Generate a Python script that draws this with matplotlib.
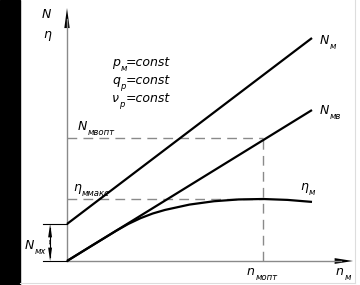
import matplotlib
matplotlib.use("Agg")
import matplotlib.pyplot as plt
import numpy as np

# ---- data (normalised units) ----
n_vals = [0.0, 1.0]                      # motor speed, n_м
N_m = [0.166, 1.0]                       # N_м  (input power)
N_mv = [0.0, 0.677]                      # N_мв (useful power)
n_eta = [0.0, 0.1, 0.2, 0.25, 0.3, 0.35, 0.4, 0.5, 0.6, 0.7, 0.8, 0.9, 1.0]
eta = [0.0, 0.068, 0.135, 0.166, 0.192, 0.213, 0.229, 0.253, 0.268, 0.276, 0.278, 0.274, 0.265]
N_mx = 0.166                             # no-load power
n_opt = 0.8
N_mv_opt = 0.552
eta_max = 0.278

FAM = ['Liberation Sans Narrow', 'DejaVu Sans']

fig = plt.figure(figsize=(3.6, 2.85), dpi=100)
ax = fig.add_axes([0, 0, 1, 1])
ax.set_xlim(-67 / 245, (360 - 67) / 245)
ax.set_ylim(-(285 - 261) / 223, 261 / 223)
ax.axis('off')

# black strip on the left
ax.axvspan(-67 / 245, (20 - 67) / 245, color='black', zorder=0)
# faint frame lines at right and bottom
ax.plot([(355 - 67) / 245] * 2, [-(283 - 261) / 223, 261 / 223], color='#dddddd', lw=0.8)
ax.plot([(20 - 67) / 245, (355 - 67) / 245], [-(283 - 261) / 223] * 2, color='#dddddd', lw=0.8)

gray = '#8a8a8a'
# axes
ytop = (261 - 8) / 223
xend = (353 - 67) / 245
ax.plot([0, 0], [0, ytop - 0.05], color=gray, lw=1.0)
ax.plot([0, xend - 0.05], [0, 0], color=gray, lw=1.0)
ax.fill([-0.011, 0.011, 0], [ytop - 0.09, ytop - 0.09, ytop], color='black', lw=0)
ax.fill([xend - 0.075, xend - 0.075, xend], [-0.013, 0.013, 0], color='black', lw=0)

# dashed guides
dash = dict(color=gray, lw=1.0, linestyle=(0, (7, 4.5)))
ax.plot([0, n_opt], [N_mv_opt, N_mv_opt], **dash)
ax.plot([0, n_opt], [eta_max, eta_max], **dash)
ax.plot([n_opt, n_opt], [0, N_mv_opt], **dash)

# curves
ax.plot(n_vals, N_m, color='black', lw=1.6, solid_capstyle='butt')
ax.plot(n_vals, N_mv, color='black', lw=1.6, solid_capstyle='butt')
ax.plot(n_eta, eta, color='black', lw=1.6, solid_capstyle='butt', solid_joinstyle='round')

# N_мх bracket
bx = -0.069
ax.plot([-0.098, 0], [N_mx, N_mx], color='black', lw=0.8)
ax.plot([-0.098, 0], [0, 0], color='black', lw=0.8)
ax.plot([bx, bx], [0.02, N_mx - 0.02], color='black', lw=0.8)
ax.fill([bx - 0.008, bx + 0.008, bx], [N_mx - 0.06, N_mx - 0.06, N_mx], color='black', lw=0)
ax.fill([bx - 0.008, bx + 0.008, bx], [0.06, 0.06, 0], color='black', lw=0)
ax.fill([bx - 0.004, bx + 0.004, bx], [0.075, 0.075, 0.09], color='black', lw=0)
ax.fill([bx - 0.004, bx + 0.004, bx], [0.093, 0.093, 0.078], color='black', lw=0)


def label(x, y, main, sub=None, size=11):
    t = ax.text(x, y, main, ha='left', va='baseline', fontsize=size * 0.75,
                style='italic', family=FAM)
    if sub:
        ax.annotate(sub, xy=(1, 0), xycoords=t, xytext=(0.3, -1.5),
                    textcoords='offset points', ha='left', va='baseline',
                    fontsize=size * 0.75 * 0.68, style='italic', family=FAM)
    return t


def px(xp, yp):
    return (xp - 67) / 245, (261 - yp) / 223


label(*px(42, 18), 'N', size=12)
label(*px(43, 38), 'η', size=12)
label(*px(112, 66), 'p', 'м', size=12)
label(*px(112, 84), 'q', 'р', size=12)
label(*px(112, 102), 'ν', 'р', size=12)
ax.text(*px(126, 66), '=const', ha='left', va='baseline', fontsize=9, style='italic', family=FAM)
ax.text(*px(126, 84), '=const', ha='left', va='baseline', fontsize=9, style='italic', family=FAM)
ax.text(*px(126, 102), '=const', ha='left', va='baseline', fontsize=9, style='italic', family=FAM)
label(*px(78, 130), 'N', 'мвопт', size=12)
label(*px(73, 191), 'η', 'ммакс', size=12)
label(*px(320, 44), 'N', 'м', size=12)
label(*px(320, 114), 'N', 'мв', size=12)
label(*px(300, 190), 'η', 'м', size=12)
label(*px(247, 275), 'n', 'мопт', size=12)
label(*px(336, 275), 'n', 'м', size=12)
label(*px(25, 249), 'N', 'мх', size=12)

fig.savefig('out.png', dpi=100, facecolor='white')
